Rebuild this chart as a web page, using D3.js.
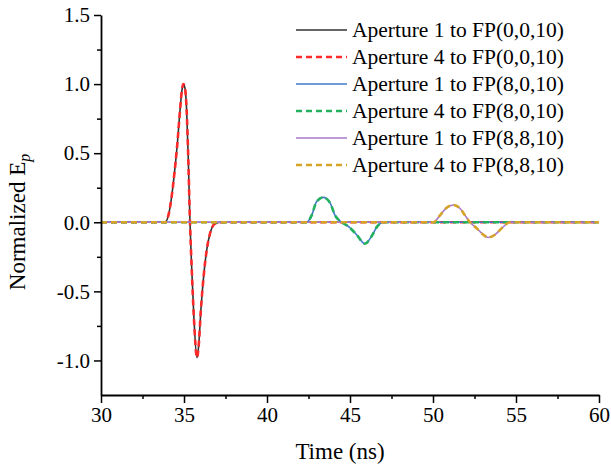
<!DOCTYPE html>
<html>
<head>
<meta charset="utf-8">
<script src="https://cdn.jsdelivr.net/npm/d3@7"></script>
<style>
  body { margin: 0; background: #fff; }
  svg text { font-family: "Liberation Serif", "Times New Roman", serif; fill: #000; }
</style>
</head>
<body>
<div id="chart"></div>
<script>
// pulse: FP(0,0,10)
var tPulse0 = [30, 33.86, 34.06, 34.26, 34.40, 34.60, 34.76, 34.88, 34.96, 35.06, 35.16, 35.26, 35.36, 35.46, 35.60, 35.78, 35.88, 36.02, 36.20, 36.37, 36.57, 36.87, 37.27, 60];
var ePulse0 = [0, 0, 0.05, 0.19, 0.33, 0.57, 0.81, 0.96, 1.0, 0.97, 0.81, 0.45, 0, -0.32, -0.70, -0.98, -0.90, -0.63, -0.37, -0.20, -0.08, -0.01, 0, 0];
// FP(8,0,10)
var tPulse1 = [30, 42.39, 42.69, 42.99, 43.39, 43.80, 44.10, 44.50, 44.90, 45.40, 45.90, 46.31, 46.61, 47.01, 60];
var ePulse1 = [0, 0, 0.05, 0.15, 0.18, 0.14, 0.05, 0, -0.03, -0.09, -0.155, -0.10, -0.035, 0, 0];
// FP(8,8,10)
var tPulse2 = [30, 50.02, 50.42, 50.82, 51.22, 51.63, 51.93, 52.23, 52.63, 53.03, 53.33, 53.73, 54.14, 54.64, 60];
var ePulse2 = [0, 0, 0.05, 0.105, 0.125, 0.10, 0.05, 0, -0.043, -0.09, -0.11, -0.09, -0.043, 0, 0];

var names = ['Aperture 1 to FP(0,0,10)', 'Aperture 4 to FP(0,0,10)', 'Aperture 1 to FP(8,0,10)',
             'Aperture 4 to FP(8,0,10)', 'Aperture 1 to FP(8,8,10)', 'Aperture 4 to FP(8,8,10)'];
var seriesT = [tPulse0, tPulse0, tPulse1, tPulse1, tPulse2, tPulse2];
var seriesE = [ePulse0, ePulse0, ePulse1, ePulse1, ePulse2, ePulse2];
var colors = ['#333333', '#ff2b2b', '#3f78c8', '#22b15c', '#a878c8', '#d6a428'];
var dashed = [false, true, false, true, false, true];

var xTicks = [30, 35, 40, 45, 50, 55, 60];
var yTicks = [-1.0, -0.5, 0.0, 0.5, 1.0, 1.5];

var serif = '"Liberation Serif", "Times New Roman", serif';
var W = 611, H = 468;
var margin = { top: 15, right: 12, bottom: 73, left: 101 };
var width = W - margin.left - margin.right,
    height = H - margin.top - margin.bottom;

var svg = d3.select('#chart').append('svg').attr('width', W).attr('height', H);
svg.append('rect').attr('width', W).attr('height', H).attr('fill', '#fff');

var x = d3.scaleLinear().domain([30, 60]).range([0, width]);
var y = d3.scaleLinear().domain([-1.25, 1.5]).range([height, 0]);

var g = svg.append('g').attr('transform', 'translate(' + margin.left + ',' + margin.top + ')');

var line = d3.line()
  .x(function (d) { return x(d[0]); })
  .y(function (d) { return y(d[1]); })
  .curve(d3.curveMonotoneX);

names.forEach(function (name, i) {
  var pts = seriesT[i].map(function (t, k) { return [t, seriesE[i][k]]; });
  g.append('path')
    .datum(pts)
    .attr('d', line)
    .attr('fill', 'none')
    .attr('stroke', colors[i])
    .attr('stroke-width', dashed[i] ? 2.6 : 1.6)
    .attr('stroke-dasharray', dashed[i] ? '6,4' : null);
});

// minor ticks
var xMinor = g.append('g').attr('transform', 'translate(0,' + height + ')')
  .call(d3.axisBottom(x).tickValues(d3.range(32.5, 60, 5)).tickSize(4).tickFormat(''));
var yMinor = g.append('g')
  .call(d3.axisLeft(y).tickValues([-0.75, -0.25, 0.25, 0.75, 1.25]).tickSize(4).tickFormat(''));
[xMinor, yMinor].forEach(function (a) { a.select('.domain').remove(); a.selectAll('line').attr('stroke-width', 1.5); });

var fmt = function (d) { return d.toFixed(1); };
var xAxis = g.append('g').attr('transform', 'translate(0,' + height + ')')
  .call(d3.axisBottom(x).tickValues(xTicks).tickSize(8).tickSizeOuter(0).tickPadding(4));
var yAxis = g.append('g')
  .call(d3.axisLeft(y).tickValues(yTicks).tickFormat(fmt).tickSize(7).tickSizeOuter(0).tickPadding(4));
[xAxis, yAxis].forEach(function (a) {
  a.attr('font-family', serif).attr('font-size', 21);
  a.select('.domain').attr('stroke-width', 1.8);
  a.selectAll('line').attr('stroke-width', 1.5);
  a.selectAll('text').attr('fill', '#000').style('font-family', serif);
});

svg.append('text')
  .attr('x', 340).attr('y', 459)
  .attr('text-anchor', 'middle').style('font-size', '23px')
  .text('Time (ns)');

var yl = svg.append('text')
  .attr('transform', 'translate(25,222) rotate(-90)')
  .attr('text-anchor', 'middle').style('font-size', '23px');
yl.append('tspan').text('Normalized E');
yl.append('tspan').attr('dy', 5).style('font-size', '16px').style('font-style', 'italic').text('p');

var legend = svg.append('g').attr('transform', 'translate(296,30)');
names.forEach(function (name, i) {
  var row = legend.append('g').attr('transform', 'translate(0,' + (i * 27) + ')');
  row.append('line').attr('x1', 0).attr('x2', 51).attr('y1', 0).attr('y2', 0)
    .attr('stroke', colors[i])
    .attr('stroke-width', dashed[i] ? 2.6 : 1.6)
    .attr('stroke-dasharray', dashed[i] ? '6,4' : null);
  row.append('text').attr('x', 56).attr('y', 7).style('font-size', '21.5px').text(name);
});
</script>
</body>
</html>
